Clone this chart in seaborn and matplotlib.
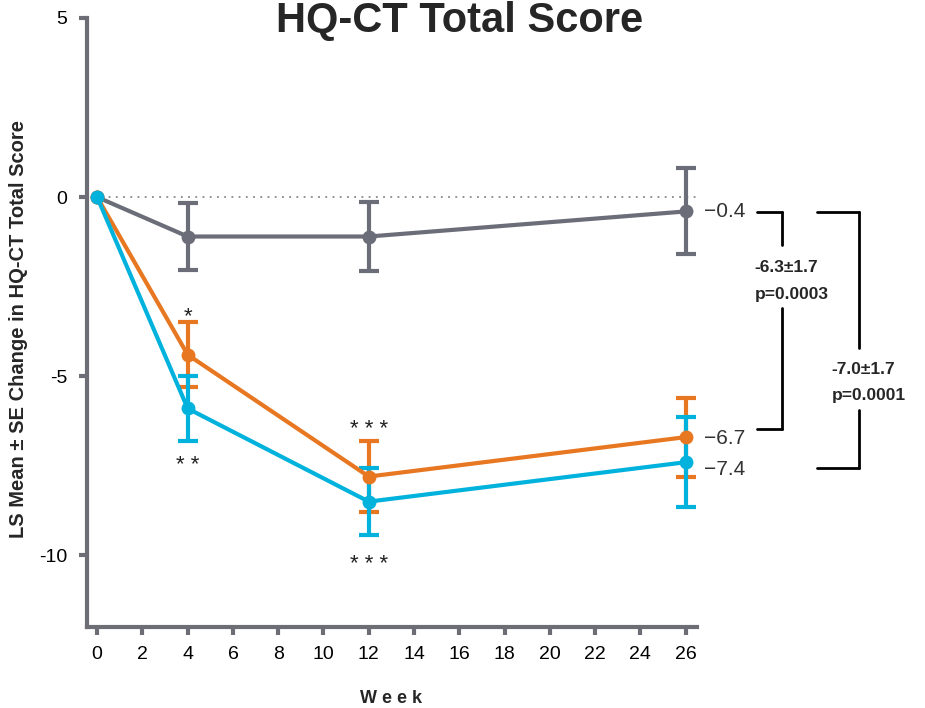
import numpy as np
import pandas as pd
import matplotlib
matplotlib.use("Agg")
import matplotlib.pyplot as plt
import seaborn as sns

# data
weeks = [0, 4, 12, 26]
groups = ["Placebo", "Dose A", "Dose B"]
placebo_mean = [0, -1.1, -1.1, -0.4]
placebo_se = [0, 0.93, 0.97, 1.2]
dose_a_mean = [0, -4.4, -7.8, -6.7]
dose_a_se = [0, 0.9, 0.98, 1.1]
dose_b_mean = [0, -5.9, -8.5, -7.4]
dose_b_se = [0, 0.9, 0.93, 1.25]
end_labels = ["\u22120.4", "\u22126.7", "\u22127.4"]
xticks = list(range(0, 27, 2))
yticks = [5, 0, -5, -10]

colors = {"Placebo": "#6b6e78", "Dose A": "#e87722", "Dose B": "#00b2dc"}
axis_gray = "#6d6e75"

rows = []
for g, m, s in zip(groups, [placebo_mean, dose_a_mean, dose_b_mean],
                   [placebo_se, dose_a_se, dose_b_se]):
    for w, mv, sv in zip(weeks, m, s):
        rows.append({"group": g, "week": w, "mean": mv, "se": sv})
df = pd.DataFrame(rows)

sns.set_theme(style="ticks")
plt.rcParams["font.family"] = ["Liberation Sans", "DejaVu Sans"]

fig = plt.figure(figsize=(9.25, 7.08), dpi=100)
ax = fig.add_axes([0.094, 0.1144, 0.6595, 0.8602])

ax.axhline(0, xmin=0.0, xmax=1, color="#888888", lw=1.3, ls=(0, (1, 3)), zorder=1)

# error bars first, then lines on top
for g in groups:
    d = df[(df["group"] == g) & (df["week"] > 0)]
    ax.errorbar(d["week"], d["mean"], yerr=d["se"], fmt="none",
                ecolor=colors[g], elinewidth=3, capsize=7, capthick=3, zorder=2)

sns.lineplot(data=df, x="week", y="mean", hue="group", palette=colors,
             hue_order=groups, marker="o", markersize=10, markeredgewidth=0,
             linewidth=3, legend=False, ax=ax, zorder=3)

ax.set_xlim(-0.45, 26.5)
ax.set_ylim(-12, 5)
ax.set_xticks(xticks)
ax.set_yticks(yticks)
ax.set_yticklabels(["5", "0", "-5", "-10"])
ax.tick_params(axis="both", colors=axis_gray, width=3, length=6, labelsize=14,
               labelcolor="black", pad=8)
for side in ["top", "right"]:
    ax.spines[side].set_visible(False)
for side in ["left", "bottom"]:
    ax.spines[side].set_color(axis_gray)
    ax.spines[side].set_linewidth(3)

ax.set_xlabel("")
ax.set_ylabel("")
fig.text(0.423, 0.014, "W e e k", ha="center", va="center", fontsize=13,
         fontweight="bold")
fig.text(0.02, 0.535, "LS Mean ± SE Change in HQ-CT Total Score", rotation=90,
         ha="center", va="center", fontsize=14.5, fontweight="bold")
fig.text(0.497, 0.999, "HQ-CT Total Score", ha="center", va="top",
         fontsize=30, fontweight="bold")

# significance stars
star_kw = dict(ha="center", va="center", fontsize=16, color="#222222")
ax.text(4, -3.35, "*", **star_kw)
ax.text(4, -7.5, "* *", **star_kw)
ax.text(12, -6.5, "* * *", **star_kw)
ax.text(12, -10.25, "* * *", **star_kw)

# end-of-line values
for lab, yv in zip(end_labels, [-0.4, -6.75, -7.6]):
    ax.text(26.8, yv, lab, ha="left", va="center", fontsize=15,
            color="#333333", clip_on=False)

# brackets with treatment differences
bk = dict(color="black", lw=2, clip_on=False)
ax.plot([29.15, 30.25], [-0.42, -0.42], **bk)
ax.plot([30.25, 30.25], [-0.42, -1.35], **bk)
ax.plot([30.25, 30.25], [-3.1, -6.48], **bk)
ax.plot([29.15, 30.25], [-6.48, -6.48], **bk)
ax.text(29.05, -1.96, "-6.3±1.7", fontsize=12.5, fontweight="bold", va="center")
ax.text(29.05, -2.72, "p=0.0003", fontsize=12.5, fontweight="bold", va="center")

ax.plot([31.8, 33.65], [-0.42, -0.42], **bk)
ax.plot([33.65, 33.65], [-0.42, -4.2], **bk)
ax.plot([33.65, 33.65], [-5.95, -7.57], **bk)
ax.plot([31.8, 33.65], [-7.57, -7.57], **bk)
ax.text(32.45, -4.8, "-7.0±1.7", fontsize=12.5, fontweight="bold", va="center")
ax.text(32.45, -5.55, "p=0.0001", fontsize=12.5, fontweight="bold", va="center")

fig.savefig("out.png", dpi=100)
